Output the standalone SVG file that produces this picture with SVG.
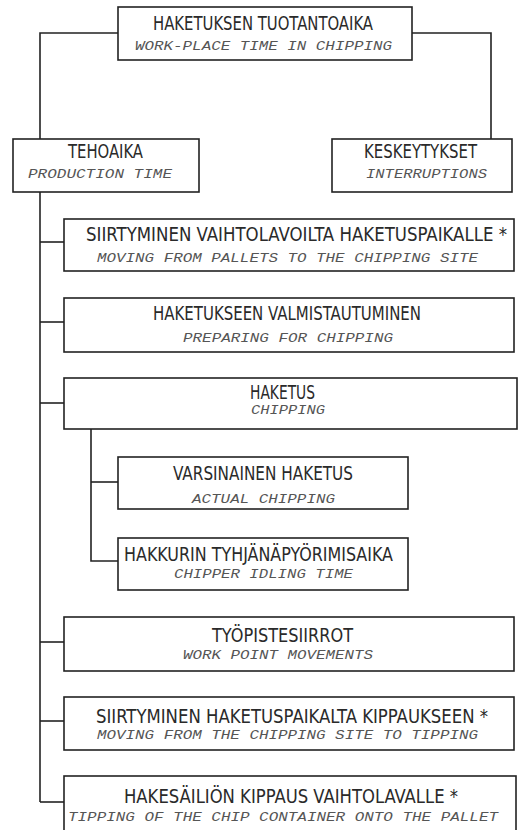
<svg xmlns="http://www.w3.org/2000/svg" width="522" height="830" viewBox="0 0 522 830">
<style>
  .box { fill: #fff; stroke: #222; stroke-width: 1.6; }
  .conn { fill: none; stroke: #222; stroke-width: 1.6; }
  .t1 { font-family: "Liberation Sans Narrow", "DejaVu Sans Condensed", "Liberation Sans", sans-serif; font-size: 19px; fill: #2a2a2a; }
  .t2 { font-family: "Liberation Mono", "DejaVu Sans Mono", monospace; font-style: italic; font-size: 13px; fill: #555; }
</style>
<rect width="522" height="830" fill="#fff"/>
<g id="connectors">
  <polyline class="conn" points="118,33 40,33 40,139"/>
  <polyline class="conn" points="412,33 491,33 491,139"/>
  <line class="conn" x1="40" y1="192" x2="40" y2="802"/>
  <line class="conn" x1="40" y1="242" x2="64" y2="242"/>
  <line class="conn" x1="40" y1="322" x2="64" y2="322"/>
  <line class="conn" x1="40" y1="403" x2="64" y2="403"/>
  <line class="conn" x1="40" y1="642" x2="64" y2="642"/>
  <line class="conn" x1="40" y1="721" x2="64" y2="721"/>
  <polyline class="conn" points="40,802 64,802"/>
  <polyline class="conn" points="91,429 91,561 118,561"/>
  <line class="conn" x1="91" y1="482" x2="118" y2="482"/>
</g>
<g id="n-top">
  <rect class="box" x="118" y="7" width="294" height="53"/>
  <text class="t1" x="153" y="30" textLength="220" lengthAdjust="spacingAndGlyphs">HAKETUKSEN TUOTANTOAIKA</text>
  <text class="t2" x="135" y="50" textLength="257" lengthAdjust="spacingAndGlyphs">WORK-PLACE TIME IN CHIPPING</text>
</g>
<g id="n-tehoaika">
  <rect class="box" x="13" y="139" width="186" height="53"/>
  <text class="t1" x="68" y="158" textLength="75" lengthAdjust="spacingAndGlyphs">TEHOAIKA</text>
  <text class="t2" x="28" y="178" textLength="144" lengthAdjust="spacingAndGlyphs">PRODUCTION TIME</text>
</g>
<g id="n-keskeytykset">
  <rect class="box" x="332" y="139" width="180" height="53"/>
  <text class="t1" x="364" y="158" textLength="113" lengthAdjust="spacingAndGlyphs">KESKEYTYKSET</text>
  <text class="t2" x="366" y="178" textLength="121" lengthAdjust="spacingAndGlyphs">INTERRUPTIONS</text>
</g>
<g id="n-siirtyminen1">
  <rect class="box" x="64" y="219" width="450" height="52"/>
  <text class="t1" x="86" y="241" textLength="421" lengthAdjust="spacingAndGlyphs">SIIRTYMINEN VAIHTOLAVOILTA HAKETUSPAIKALLE *</text>
  <text class="t2" x="97" y="262" textLength="381" lengthAdjust="spacingAndGlyphs">MOVING FROM PALLETS TO THE CHIPPING SITE</text>
</g>
<g id="n-valmistautuminen">
  <rect class="box" x="64" y="298" width="450" height="54"/>
  <text class="t1" x="153" y="320" textLength="268" lengthAdjust="spacingAndGlyphs">HAKETUKSEEN VALMISTAUTUMINEN</text>
  <text class="t2" x="183" y="342" textLength="210" lengthAdjust="spacingAndGlyphs">PREPARING FOR CHIPPING</text>
</g>
<g id="n-haketus">
  <rect class="box" x="64" y="378" width="453" height="51"/>
  <text class="t1" x="250" y="399" textLength="65" lengthAdjust="spacingAndGlyphs">HAKETUS</text>
  <text class="t2" x="251" y="414" textLength="74" lengthAdjust="spacingAndGlyphs">CHIPPING</text>
</g>
<g id="n-varsinainen">
  <rect class="box" x="118" y="457" width="290" height="52"/>
  <text class="t1" x="173" y="480" textLength="180" lengthAdjust="spacingAndGlyphs">VARSINAINEN HAKETUS</text>
  <text class="t2" x="192" y="503" textLength="143" lengthAdjust="spacingAndGlyphs">ACTUAL CHIPPING</text>
</g>
<g id="n-hakkurin">
  <rect class="box" x="118" y="538" width="290" height="52"/>
  <text class="t1" x="124" y="561" font-size="18" textLength="269" lengthAdjust="spacingAndGlyphs">HAKKURIN TYHJÄNÄPYÖRIMISAIKA</text>
  <text class="t2" x="174" y="578" textLength="179" lengthAdjust="spacingAndGlyphs">CHIPPER IDLING TIME</text>
</g>
<g id="n-tyopistesiirrot">
  <rect class="box" x="64" y="617" width="450" height="54"/>
  <text class="t1" x="212" y="642" textLength="141" lengthAdjust="spacingAndGlyphs">TYÖPISTESIIRROT</text>
  <text class="t2" x="183" y="659" textLength="190" lengthAdjust="spacingAndGlyphs">WORK POINT MOVEMENTS</text>
</g>
<g id="n-siirtyminen2">
  <rect class="box" x="64" y="697" width="450" height="53"/>
  <text class="t1" x="96" y="723" textLength="392" lengthAdjust="spacingAndGlyphs">SIIRTYMINEN HAKETUSPAIKALTA KIPPAUKSEEN *</text>
  <text class="t2" x="97" y="739" textLength="381" lengthAdjust="spacingAndGlyphs">MOVING FROM THE CHIPPING SITE TO TIPPING</text>
</g>
<g id="n-kippaus">
  <rect class="box" x="64" y="776" width="452" height="60"/>
  <text class="t1" x="124" y="803" textLength="334" lengthAdjust="spacingAndGlyphs">HAKESÄILIÖN KIPPAUS VAIHTOLAVALLE *</text>
  <text class="t2" x="68" y="821" textLength="430" lengthAdjust="spacingAndGlyphs">TIPPING OF THE CHIP CONTAINER ONTO THE PALLET</text>
</g>
</svg>
